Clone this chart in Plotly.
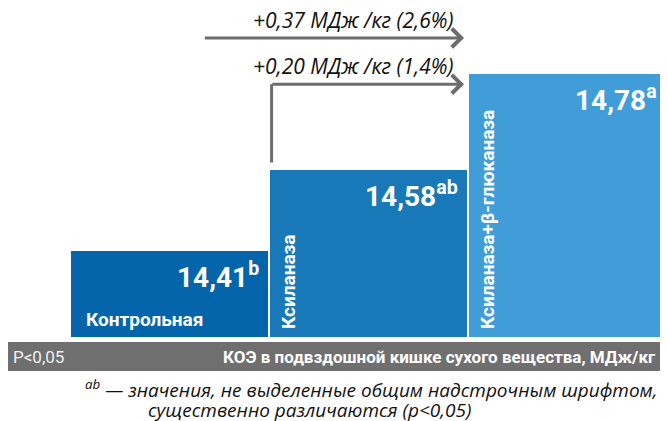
import plotly.graph_objects as go

# ---- data ----
categories = ["Контрольная", "Ксиланаза", "Ксиланаза+β-глюканаза"]
values = [14.41, 14.58, 14.78]
value_labels = ["14,41", "14,58", "14,78"]
superscripts = ["b", "ab", "a"]
arrow_texts = ["+0,37 МДж /кг (2,6%)", "+0,20 МДж /кг (1,4%)"]
axis_title = "КОЭ в подвздошной кишке сухого вещества, МДж/кг"
p_label = "P<0,05"
footnote_1 = "<sup>ab</sup> — значения, не выделенные общим надстрочным шрифтом,"
footnote_2 = "существенно различаются (р<0,05)"

# ---- style ----
colors = ["#0565AA", "#1878B8", "#409DD8"]
gray = "#6F6F6F"
arrow_gray = "#6D6D6D"
W, H = 660, 413          # page body adds 8px margin
PB = 329                 # plot-area height in px
BAR_W = 0.99
Y0 = 14.229
K = 477.0                # px per unit
Y1 = Y0 + PB / K
C0 = 161.5               # px centre of first bar

xs = list(range(len(categories)))

fig = go.Figure()
fig.add_trace(go.Bar(
    x=xs, y=[v - Y0 for v in values], base=Y0, width=BAR_W,
    marker=dict(color=colors, line=dict(width=0)),
    hoverinfo="skip", showlegend=False,
))

annotations = []
shapes = []

# value labels
for i, (v, lab, sup) in enumerate(zip(values, value_labels, superscripts)):
    annotations.append(dict(
        x=xs[i] + BAR_W / 2, y=v, xref="x", yref="y",
        xanchor="right", yanchor="top", xshift=-7, yshift=-4,
        text=f"<b>{lab}<sup>{sup}</sup></b>", showarrow=False,
        font=dict(family="Roboto", size=28, color="white"),
    ))

# category labels
annotations.append(dict(
    x=xs[0] - BAR_W / 2, y=Y0, xref="x", yref="y",
    xanchor="left", yanchor="bottom", xshift=13, yshift=4,
    text=f"<b>{categories[0]}</b>", showarrow=False,
    font=dict(family="Roboto", size=19, color="white"),
))
for i in (1, 2):
    annotations.append(dict(
        x=xs[i] - BAR_W / 2, y=Y0, xref="x", yref="y",
        xanchor="left", yanchor="bottom", xshift=5, yshift=6,
        text=f"<b>{categories[i]}</b>", showarrow=False, textangle=-90,
        font=dict(family="Roboto", size=19, color="white"),
    ))

# arrows
tip_x = xs[2] - BAR_W / 2 - 0.025
arrow_y_top = 14.856
arrow_y_2 = 14.759
annotations.append(dict(
    x=tip_x, y=arrow_y_top, ax=xs[0] + 0.17, ay=arrow_y_top,
    xref="x", yref="y", axref="x", ayref="y", text="",
    showarrow=True, arrowhead=4, arrowsize=1.2, arrowwidth=3, arrowcolor=arrow_gray,
))
elbow_x = xs[1] - BAR_W / 2 + 0.008
shapes.append(dict(
    type="line", xref="x", yref="y",
    x0=elbow_x, x1=elbow_x, y0=values[1] + 0.0147, y1=arrow_y_2,
    line=dict(color=arrow_gray, width=3),
))
annotations.append(dict(
    x=tip_x, y=arrow_y_2, ax=elbow_x - 0.004, ay=arrow_y_2,
    xref="x", yref="y", axref="x", ayref="y", text="",
    showarrow=True, arrowhead=4, arrowsize=1.2, arrowwidth=3, arrowcolor=arrow_gray,
))
for t, yy in zip(arrow_texts, (arrow_y_top, arrow_y_2)):
    annotations.append(dict(
        x=tip_x, y=yy, xref="x", yref="y", xanchor="right", yanchor="bottom",
        xshift=-9, yshift=2, text=f"<i>{t}</i>", showarrow=False,
        font=dict(family="Open Sans", size=21, color="#111111"),
    ))

# gray band under the bars
band_top = -5 / PB
band_bot = -34 / PB
shapes.append(dict(
    type="rect", xref="paper", yref="paper",
    x0=0, x1=657 / W, y0=band_bot, y1=band_top,
    fillcolor=gray, line=dict(width=0), layer="below",
))
annotations.append(dict(
    x=3 / W, y=(band_top + band_bot) / 2, xref="paper", yref="paper",
    xanchor="left", yanchor="middle", text=p_label, showarrow=False,
    font=dict(family="Roboto", size=17, color="#F2F2F2"),
))
annotations.append(dict(
    x=650 / W, y=(band_top + band_bot) / 2, xref="paper", yref="paper",
    xanchor="right", yanchor="middle", text=f"<b>{axis_title}</b>", showarrow=False,
    font=dict(family="Roboto", size=17, color="white"),
))

# footnote
annotations.append(dict(
    x=75 / W, y=-52 / PB, xref="paper", yref="paper",
    xanchor="left", yanchor="middle", text=f"<i>{footnote_1}</i>", showarrow=False,
    font=dict(family="Open Sans", size=19, color="#111111"),
))
annotations.append(dict(
    x=138 / W, y=-73 / PB, xref="paper", yref="paper",
    xanchor="left", yanchor="middle", text=f"<i>{footnote_2}</i>", showarrow=False,
    font=dict(family="Open Sans", size=19, color="#111111"),
))

fig.update_layout(
    width=W, height=H,
    margin=dict(l=0, r=0, t=0, b=H - PB, pad=0),
    paper_bgcolor="white", plot_bgcolor="white",
    xaxis=dict(range=[-C0 / 199, (W - C0) / 199], visible=False, fixedrange=True),
    yaxis=dict(range=[Y0, Y1], visible=False, fixedrange=True),
    annotations=annotations, shapes=shapes,
    bargap=0,
)

fig.write_html("out.html")
